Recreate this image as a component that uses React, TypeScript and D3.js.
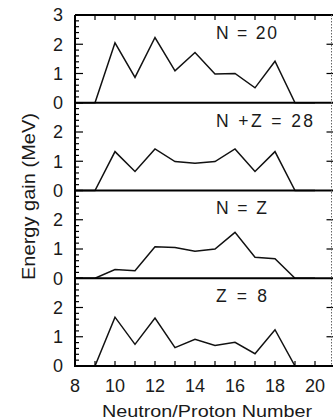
import React from 'react'
import { scaleLinear, line, range } from 'd3'

// neutron / proton number on x
const nucleons = [8, 9, 10, 11, 12, 13, 14, 15, 16, 17, 18, 19, 20]

// energy gain (MeV) for each panel
const gainN20 = [0, 0, 2.05, 0.87, 2.23, 1.09, 1.72, 0.98, 1.0, 0.51, 1.42, 0, 0]
const gainNZ28 = [0, 0, 1.33, 0.65, 1.42, 0.99, 0.93, 0.99, 1.42, 0.65, 1.33, 0, 0]
const gainNeqZ = [0, 0, 0.3, 0.26, 1.08, 1.05, 0.92, 1.0, 1.57, 0.72, 0.67, 0, 0]
const gainZ8 = [0, 0, 1.67, 0.74, 1.64, 0.63, 0.91, 0.7, 0.81, 0.42, 1.24, 0, 0]

const panelLabels = ['N = 20', 'N +Z = 28', 'N = Z', 'Z = 8']
const labelWidths = [61, 97, 51, 51]
const panelSeries = [gainN20, gainNZ28, gainNeqZ, gainZ8]
const panelTicks = [[0, 1, 2, 3], [0, 1, 2], [0, 1, 2], [0, 1, 2]]
const xTickLabels = [8, 10, 12, 14, 16, 18, 20]

const W = 333
const H = 419
const left = 75
const right = 331.5
const top = 15
const bottom = 366
const panelH = (bottom - top) / 4
const font = '"Liberation Sans", Arial, sans-serif'

const App = () => {
    const x = scaleLinear().domain([8, 20]).range([left, 315])

    return (
        <svg width={W} height={H} style={{ position: 'absolute', left: 0, top: 0, background: '#fff' }}
            fontFamily={font}>
            {panelSeries.map((values, i) => {
                const y0 = top + panelH * (i + 1)
                const y = scaleLinear().domain([0, 3]).range([y0, y0 - panelH])
                const path = line<number>()
                    .x((d, j) => x(nucleons[j]))
                    .y(d => y(d))(values)
                const minors = range(0, 3.001, 0.2)
                return (
                    <g key={i}>
                        {minors.map(v => {
                            const major = Math.abs(v - Math.round(v)) < 1e-6
                            return (
                                <line key={v} x1={left} x2={left + (major ? 8 : 4)} y1={y(v)} y2={y(v)}
                                    stroke='#000' strokeWidth={1.2} />
                            )
                        })}
                        {[1, 2].map(v => (
                            <line key={'r' + v} x1={right - 5} x2={W} y1={y(v)} y2={y(v)}
                                stroke='#000' strokeWidth={1.2} />
                        ))}
                        {panelTicks[i].map(v => (
                            <text key={'t' + v} x={63} y={y(v)} dy='0.36em' textAnchor='end'
                                fontSize={18} fill='#1a1a1a'>{v}</text>
                        ))}
                        <path d={path || ''} fill='none' stroke='#111' strokeWidth={1.5}
                            strokeLinejoin='miter' />
                        <line x1={left} x2={W} y1={y0} y2={y0} stroke='#000' strokeWidth={2} />
                        <text x={216} y={y(2.4)} dy='0.36em' fontSize={17.5} fill='#1a1a1a'
                            textLength={labelWidths[i]}>
                            {panelLabels[i]}
                        </text>
                    </g>
                )
            })}

            {/* frame */}
            <line x1={left} x2={W} y1={top} y2={top} stroke='#000' strokeWidth={2} />
            <line x1={left} x2={left} y1={top} y2={bottom + 1} stroke='#000' strokeWidth={2} />
            <line x1={right} x2={right} y1={top} y2={bottom} stroke='#666' strokeWidth={1}
                strokeDasharray='1.5,1.5' />

            {/* x ticks on top and bottom */}
            {range(9, 21).map(v => (
                <g key={v}>
                    <line x1={x(v)} x2={x(v)} y1={top} y2={top + 5} stroke='#000' strokeWidth={1.2} />
                    <line x1={x(v)} x2={x(v)} y1={bottom} y2={bottom - 5} stroke='#000' strokeWidth={1.2} />
                </g>
            ))}
            {xTickLabels.map(v => (
                <text key={v} x={x(v)} y={392} textAnchor='middle' fontSize={18} fill='#1a1a1a'>{v}</text>
            ))}

            <text x={102} y={416.5} fontSize={16.5} fill='#1a1a1a' textLength={210}
                lengthAdjust='spacingAndGlyphs'>Neutron/Proton Number</text>
            <text transform='translate(35,280) rotate(-90)' fontSize={18} fill='#1a1a1a'
                textLength={167} lengthAdjust='spacingAndGlyphs'>
                Energy gain (MeV)
            </text>
        </svg>
    )
}

export default App
